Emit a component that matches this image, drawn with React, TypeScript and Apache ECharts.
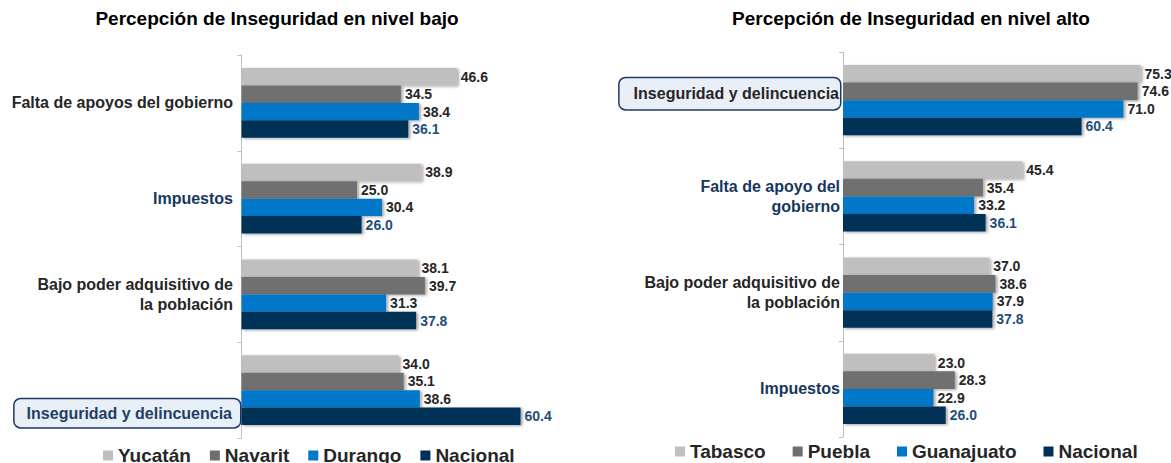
import React, { useEffect, useRef } from "react";
import * as echarts from "echarts";

const leftCategories = [
  "Falta de apoyos del gobierno",
  "Impuestos",
  "Bajo poder adquisitivo de\nla población",
  "Inseguridad y delincuencia",
];
const rightCategories = [
  "Inseguridad y delincuencia",
  "Falta de apoyo del\ngobierno",
  "Bajo poder adquisitivo de\nla población",
  "Impuestos",
];

const leftNames = ["Yucatán", "Navarit", "Durango", "Nacional"];
const rightNames = ["Tabasco", "Puebla", "Guanajuato", "Nacional"];

const yucatan = [46.6, 38.9, 38.1, 34.0];
const navarit = [34.5, 25.0, 39.7, 35.1];
const durango = [38.4, 30.4, 31.3, 38.6];
const nacionalBajo = [36.1, 26.0, 37.8, 60.4];

const tabasco = [75.3, 45.4, 37.0, 23.0];
const puebla = [74.6, 35.4, 38.6, 28.3];
const guanajuato = [71.0, 33.2, 37.9, 22.9];
const nacionalAlto = [60.4, 36.1, 37.8, 26.0];

const leftTitle = "Percepción de Inseguridad en nivel bajo";
const rightTitle = "Percepción de Inseguridad en nivel alto";

const COLORS = ["#bfbfbf", "#6f6f6f", "#0077c8", "#003059"];
const DARK = "#262626";
const NAVY_TEXT = "#1f4e79";
const BLUE_LABELS = ["Impuestos", "Falta de apoyo del\ngobierno"];
const BOXED = "Inseguridad y delincuencia";
const FONT = "'Liberation Sans', Arial, sans-serif";

function makeFormatter(side: "L" | "R") {
  return (v: string) => {
    if (v === BOXED) {
      return side === "L" ? `{sp| }\n{boxL|${v}}` : `{boxR|${v}}\n{sp2| }`;
    }
    const key = BLUE_LABELS.includes(v) ? "b" : "k";
    return v
      .split("\n")
      .map((l) => `{${key}|${l}}`)
      .join("\n");
  };
}

function richFor(side: "L" | "R") {
  const pad = side === "L" ? [0, 7, 0, 0] : [0, 0, 0, 0];
  const base = {
    fontSize: 16,
    fontWeight: "bold" as const,
    fontFamily: FONT,
    lineHeight: 20,
    align: "right" as const,
    padding: pad,
  };
  return {
    k: { ...base, color: DARK },
    b: { ...base, color: "#17375e" },
    sp: { fontSize: 1, lineHeight: 46, height: 46 },
    sp2: { fontSize: 1, lineHeight: 13, height: 13 },
    boxL: {
      fontSize: 16,
      fontWeight: "bold" as const,
      fontFamily: FONT,
      color: "#1f3f66",
      lineHeight: 18,
      backgroundColor: "#e9eff7",
      borderColor: "#1f3864",
      borderWidth: 1.5,
      borderRadius: 6,
      padding: [6, 8, 6, 12],
      align: "right" as const,
    },
    boxR: {
      fontSize: 16,
      fontWeight: "bold" as const,
      fontFamily: FONT,
      color: DARK,
      lineHeight: 18,
      backgroundColor: "#e9eff7",
      borderColor: "#1f3864",
      borderWidth: 1.5,
      borderRadius: 6,
      padding: [7, 1, 8, 14],
      align: "right" as const,
    },
  };
}

function makeSeries(names: string[], datas: number[][], idx: number) {
  return names.map((name, i) => ({
    name,
    type: "bar" as const,
    xAxisIndex: idx,
    yAxisIndex: idx,
    data: datas[i],
    barCategoryGap: "27%",
    barGap: "0%",
    itemStyle: {
      color: COLORS[i],
      shadowColor: "rgba(0,0,0,0.35)",
      shadowBlur: 3,
      shadowOffsetX: 2,
      shadowOffsetY: 1,
    },
    label: {
      show: true,
      position: "right" as const,
      distance: 4,
      fontSize: 14,
      fontWeight: "bold" as const,
      fontFamily: FONT,
      color: i === 3 ? NAVY_TEXT : DARK,
      formatter: (p: any) => Number(p.value).toFixed(1),
    },
  }));
}

export default function App() {
  const ref = useRef<HTMLDivElement>(null);
  useEffect(() => {
    if (!ref.current) return;
    const chart = echarts.init(ref.current, undefined, { renderer: "svg" });
    const catAxisCommon = {
      type: "category" as const,
      inverse: true,
      axisLine: { show: true, lineStyle: { color: "#bfbfbf", width: 1 } },
      axisTick: { show: true, length: 4, lineStyle: { color: "#bfbfbf" } },
      splitLine: { show: false },
    };
    const valAxisCommon = {
      type: "value" as const,
      min: 0,
      max: 80,
      show: false,
      splitLine: { show: false },
    };
    const legendText = { fontSize: 19, fontWeight: "bold", color: DARK, fontFamily: FONT };
    chart.setOption({
      animation: false,
      textStyle: { fontFamily: FONT },
      title: [
        {
          text: leftTitle,
          left: 277,
          top: 9,
          padding: 0,
          textAlign: "center",
          textStyle: { fontSize: 19, fontWeight: "bold", color: "#000", fontFamily: FONT },
        },
        {
          text: rightTitle,
          left: 911,
          top: 9,
          padding: 0,
          textAlign: "center",
          textStyle: { fontSize: 19, fontWeight: "bold", color: "#000", fontFamily: FONT },
        },
      ],
      legend: [
        {
          data: leftNames,
          left: 103,
          top: 446,
          padding: 0,
          icon: "rect",
          itemWidth: 10,
          itemHeight: 10,
          itemGap: 19,
          textStyle: legendText,
        },
        {
          data: rightNames,
          left: 675,
          top: 442,
          padding: 0,
          icon: "rect",
          itemWidth: 10,
          itemHeight: 10,
          itemGap: 27,
          textStyle: legendText,
        },
      ],
      grid: [
        { left: 241.5, top: 55, width: 369.6, height: 383 },
        { left: 843, top: 52, width: 316, height: 385 },
      ],
      xAxis: [
        { ...valAxisCommon, gridIndex: 0 },
        { ...valAxisCommon, gridIndex: 1 },
      ],
      yAxis: [
        {
          ...catAxisCommon,
          gridIndex: 0,
          data: leftCategories,
          axisLabel: {
            margin: 1.5,
            formatter: makeFormatter("L"),
            rich: richFor("L"),
          },
        },
        {
          ...catAxisCommon,
          gridIndex: 1,
          data: rightCategories,
          axisLabel: {
            margin: 3,
            formatter: makeFormatter("R"),
            rich: richFor("R"),
          },
        },
      ],
      series: [
        ...makeSeries(leftNames, [yucatan, navarit, durango, nacionalBajo], 0),
        ...makeSeries(rightNames, [tabasco, puebla, guanajuato, nacionalAlto], 1),
      ],
    });
    return () => chart.dispose();
  }, []);
  return (
    <div
      ref={ref}
      style={{ position: "absolute", left: 0, top: 0, width: 1171, height: 463, background: "#fff" }}
    />
  );
}
